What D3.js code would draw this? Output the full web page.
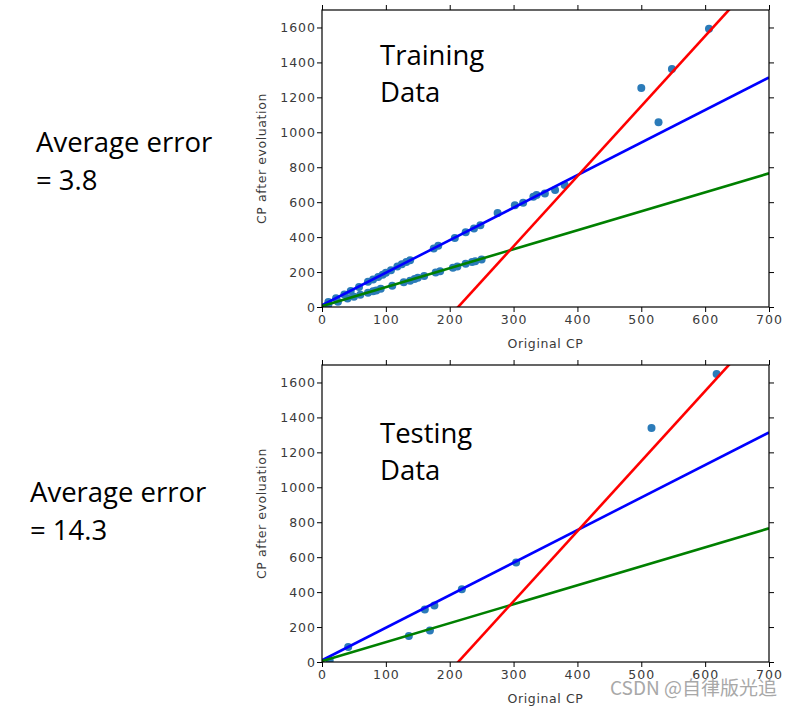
<!DOCTYPE html>
<html>
<head>
<meta charset="utf-8">
<script src="https://cdn.jsdelivr.net/npm/d3@7"></script>
<style>
  body { margin: 0; background: #fff; }
  .tick text { font-family: "DejaVu Sans", sans-serif; font-size: 12.5px; letter-spacing: 1px; fill: #3a3a3a; }
  .axis-label { font-family: "DejaVu Sans", sans-serif; font-size: 12.5px; letter-spacing: 0.6px; fill: #3a3a3a; }
  .big { font-family: "Open Sans", sans-serif; font-size: 27.5px; fill: #000; }
</style>
</head>
<body>
<div id="chart-area"></div>
<script>
// fitted lines: y = b + w * x
var lineParams = [
    {name: "blue",  b: 10,   w: 1.863, color: "#0000ff"},
    {name: "green", b: 5,    w: 1.086, color: "#008000"},
    {name: "red",   b: -855, w: 4.01,  color: "#ff0000"}
];

var trainX = [10, 22, 35, 45, 58, 72, 80, 88, 95, 100, 108, 118, 125, 132, 138, 175, 182, 208, 225, 238, 248,
              275, 302, 315, 331, 336, 349, 365, 380,
              10, 25, 40, 50, 60, 72, 80, 85, 92, 110, 128, 138, 145, 150, 160, 178, 185, 205, 212, 225, 235, 240, 250,
              500, 527, 548, 606];
var trainY = [28, 50, 72, 92, 115, 145, 158, 172, 185, 196, 210, 232, 245, 258, 268, 335, 350, 395, 428, 450, 468,
              538, 583, 597, 631, 641, 650, 669, 698,
              15, 30, 48, 58, 70, 82, 90, 95, 105, 122, 142, 150, 160, 168, 178, 198, 205, 225, 232, 248, 258, 262, 272,
              1254, 1057, 1362, 1592];

var testX = [12, 41, 136, 161, 169, 176, 219, 304, 516, 618];
var testY = [10, 86, 149, 301, 181, 324, 417, 570, 1339, 1648];

var xTicks = [0, 100, 200, 300, 400, 500, 600, 700];
var yTicks = [0, 200, 400, 600, 800, 1000, 1200, 1400, 1600];

var panels = [
    {top: 10, xs: trainX, ys: trainY, title: ["Training", "Data"], err: ["Average error", "= 3.8"], errX: 36, errY: 152, titleY: 65},
    {top: 365, xs: testX, ys: testY, title: ["Testing", "Data"], err: ["Average error", "= 14.3"], errX: 30, errY: 502, titleY: 443}
];

var W = 792, H = 707;
var left = 322, plotW = 447, plotH = 297;

var svg = d3.select("#chart-area")
    .append("svg")
    .attr("width", W)
    .attr("height", H);

var xScale = d3.scaleLinear().domain([0, 700]).range([0, plotW]);
var yScale = d3.scaleLinear().domain([0, 1700]).range([plotH, 0]);

panels.forEach(function(p, i) {
    var g = svg.append("g")
        .attr("transform", "translate(" + left + "," + p.top + ")");

    g.append("clipPath")
        .attr("id", "clip" + i)
        .append("rect")
        .attr("width", plotW)
        .attr("height", plotH);

    var plot = g.append("g").attr("clip-path", "url(#clip" + i + ")");

    var pts = p.xs.map(function(x, j) { return {x: x, y: p.ys[j]}; });

    plot.selectAll("circle")
        .data(pts)
        .enter()
        .append("circle")
        .attr("cx", d => xScale(d.x))
        .attr("cy", d => yScale(d.y))
        .attr("r", 4)
        .attr("fill", "#2b7bb9");

    var line = d3.line()
        .x(d => xScale(d[0]))
        .y(d => yScale(d[1]));

    lineParams.forEach(function(lp) {
        var seg = [[0, lp.b], [700, lp.b + lp.w * 700]];
        plot.append("path")
            .attr("d", line(seg))
            .attr("fill", "none")
            .attr("stroke", lp.color)
            .attr("stroke-width", 2.6);
    });

    g.append("g")
        .attr("transform", "translate(0," + plotH + ")")
        .call(d3.axisBottom(xScale).tickValues(xTicks).tickSize(5).tickPadding(3).tickFormat(d3.format("d")));
    g.append("g")
        .call(d3.axisLeft(yScale).tickValues(yTicks).tickSize(5).tickPadding(1).tickFormat(d3.format("d")));
    g.append("g")
        .call(d3.axisTop(xScale).tickValues(xTicks).tickSize(5).tickFormat(""));
    g.append("g")
        .attr("transform", "translate(" + plotW + ",0)")
        .call(d3.axisRight(yScale).tickValues(yTicks).tickSize(5).tickFormat(""));

    g.selectAll(".domain").remove();
    g.selectAll(".tick line").attr("stroke", "#000");

    g.append("rect")
        .attr("width", plotW)
        .attr("height", plotH)
        .attr("fill", "none")
        .attr("stroke", "#000")
        .attr("stroke-width", 1.2);

    g.append("text")
        .attr("class", "axis-label")
        .attr("x", plotW / 2)
        .attr("y", plotH + 41)
        .attr("text-anchor", "middle")
        .text("Original CP");

    g.append("text")
        .attr("class", "axis-label")
        .attr("transform", "rotate(-90)")
        .attr("x", -plotH / 2)
        .attr("y", -56)
        .attr("text-anchor", "middle")
        .text("CP after evoluation");

    p.title.forEach(function(t, k) {
        svg.append("text")
            .attr("class", "big")
            .attr("x", 380)
            .attr("y", p.titleY + k * 37)
            .text(t);
    });

    p.err.forEach(function(t, k) {
        svg.append("text")
            .attr("class", "big")
            .attr("x", p.errX)
            .attr("y", p.errY + k * 38)
            .text(t);
    });
});

svg.append("text")
    .attr("x", 777)
    .attr("y", 695)
    .attr("text-anchor", "end")
    .style("font-family", "'Noto Sans CJK SC', sans-serif")
    .style("font-size", "19px")
    .style("fill", "#999")
    .style("opacity", 0.85)
    .text("CSDN @自律版光追");
</script>
</body>
</html>
